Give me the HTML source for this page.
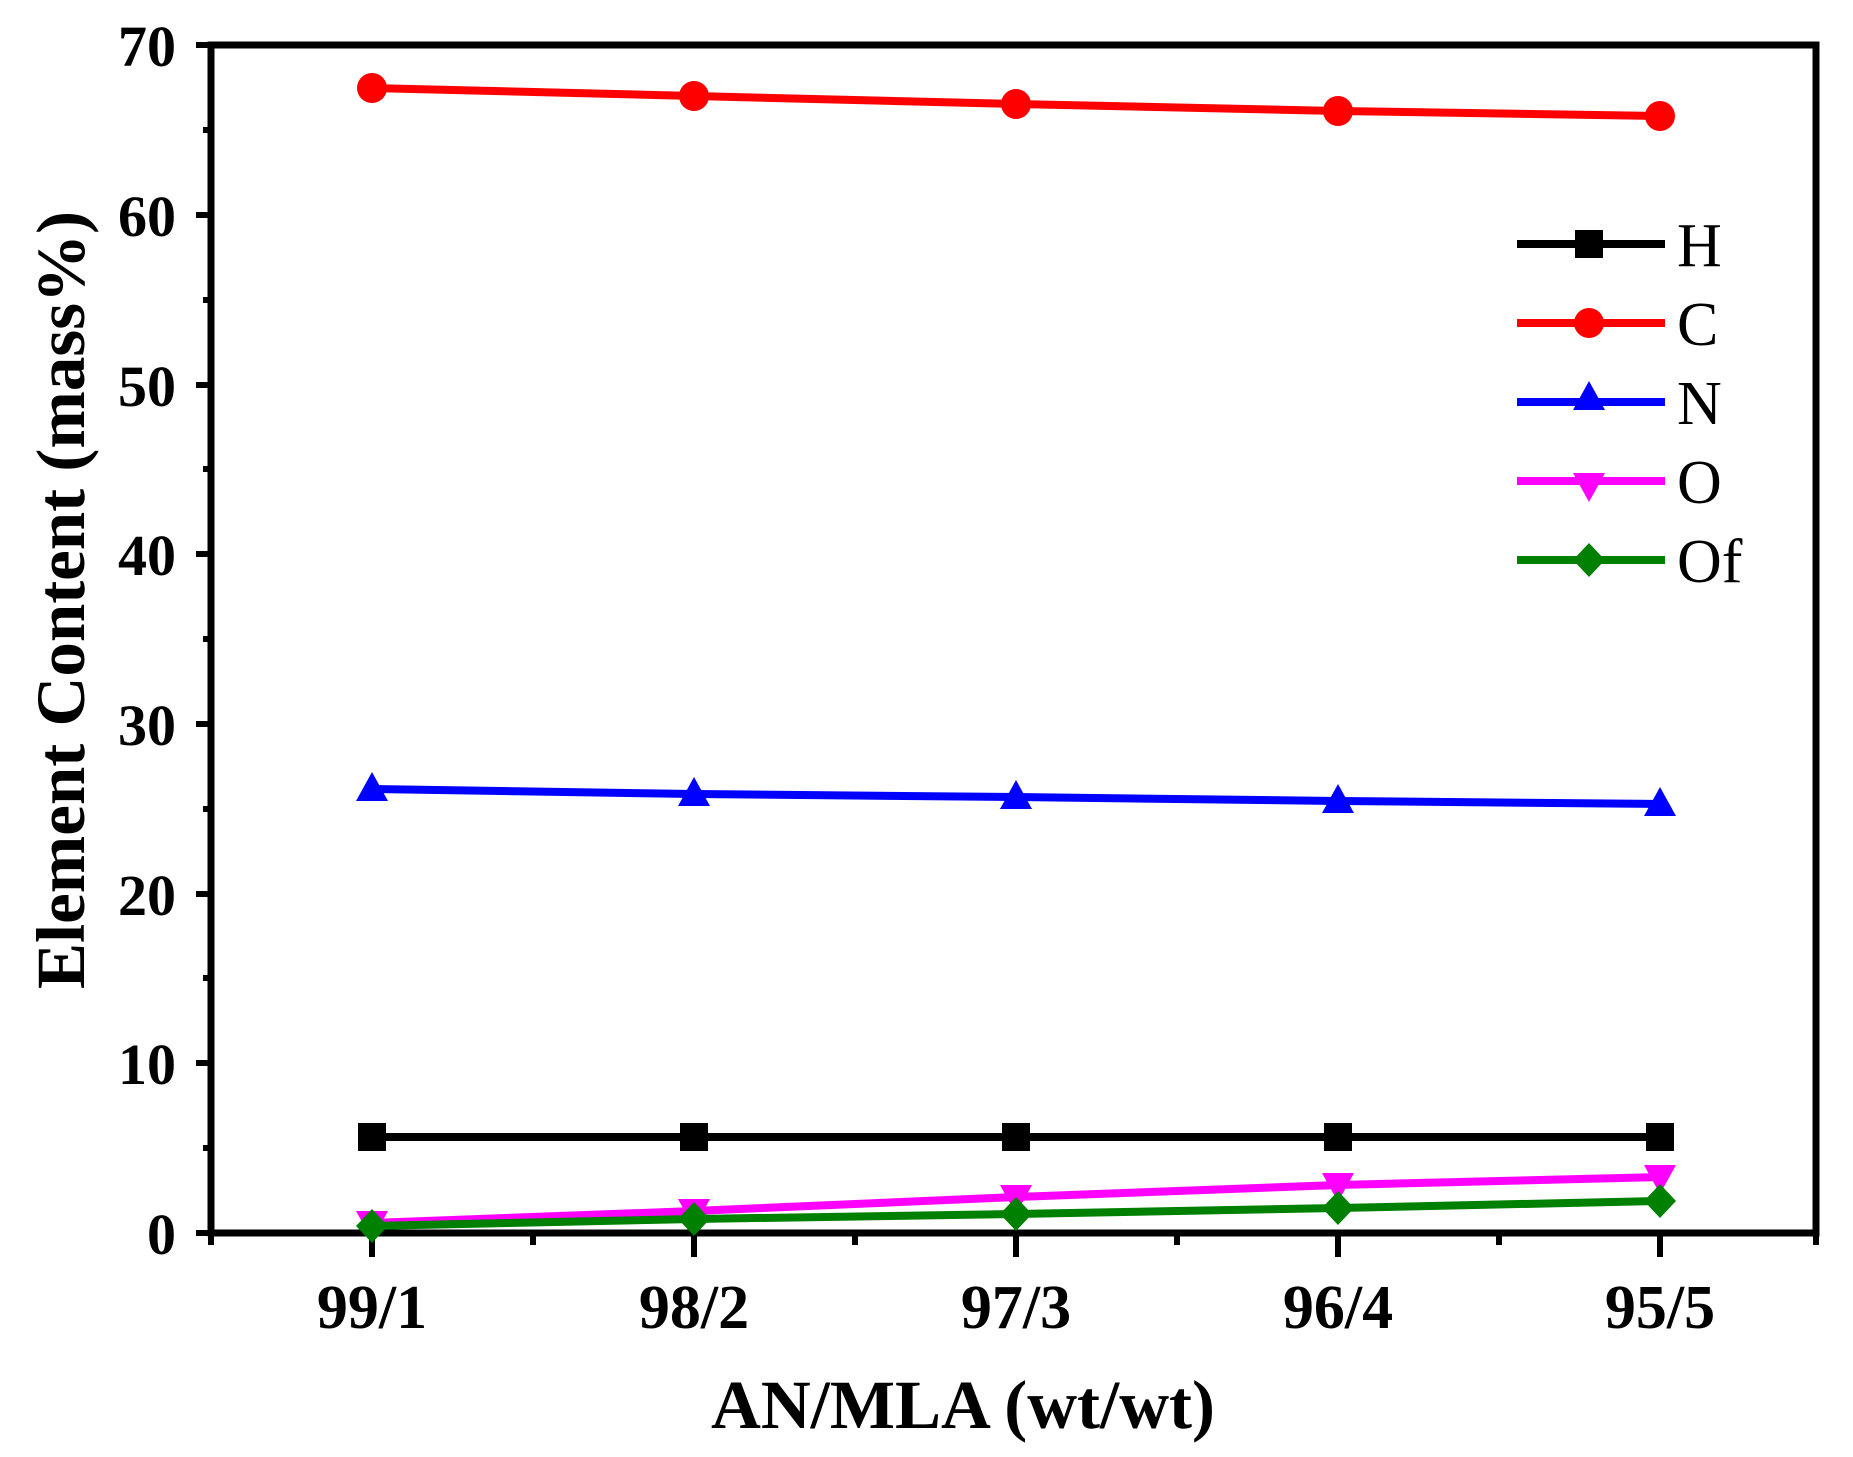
<!DOCTYPE html>
<html><head><meta charset="utf-8"><style>html,body{margin:0;padding:0;background:#fff}</style></head>
<body>
<svg width="1853" height="1452" viewBox="0 0 1853 1452" xmlns="http://www.w3.org/2000/svg" font-family="Liberation Serif, serif">
<rect width="1853" height="1452" fill="#fff"/>
<defs>
<g id="sq"><rect x="-14" y="-14" width="28" height="28"/></g>
<g id="ci"><circle r="15"/></g>
<g id="tu"><polygon points="0,-17 16,12 -16,12"/></g>
<g id="td"><polygon points="0,17 16,-12 -16,-12"/></g>
<g id="di"><polygon points="0,-17 16,0 0,17 -16,0"/></g>
</defs>
<rect x="211" y="45" width="1605" height="1188" fill="none" stroke="#000" stroke-width="7"/>
<g stroke="#000" stroke-width="6">
<line x1="196" y1="1233" x2="211" y2="1233"/><line x1="196" y1="1063" x2="211" y2="1063"/><line x1="196" y1="894" x2="211" y2="894"/><line x1="196" y1="724" x2="211" y2="724"/><line x1="196" y1="554" x2="211" y2="554"/><line x1="196" y1="385" x2="211" y2="385"/><line x1="196" y1="215" x2="211" y2="215"/><line x1="196" y1="45" x2="211" y2="45"/>
<line x1="203" y1="1148" x2="211" y2="1148"/><line x1="203" y1="978" x2="211" y2="978"/><line x1="203" y1="809" x2="211" y2="809"/><line x1="203" y1="639" x2="211" y2="639"/><line x1="203" y1="469" x2="211" y2="469"/><line x1="203" y1="300" x2="211" y2="300"/><line x1="203" y1="130" x2="211" y2="130"/>
<line x1="372" y1="1233" x2="372" y2="1257"/><line x1="694" y1="1233" x2="694" y2="1257"/><line x1="1016" y1="1233" x2="1016" y2="1257"/><line x1="1338" y1="1233" x2="1338" y2="1257"/><line x1="1660" y1="1233" x2="1660" y2="1257"/>
<line x1="211" y1="1233" x2="211" y2="1245"/><line x1="533" y1="1233" x2="533" y2="1245"/><line x1="855" y1="1233" x2="855" y2="1245"/><line x1="1177" y1="1233" x2="1177" y2="1245"/><line x1="1499" y1="1233" x2="1499" y2="1245"/><line x1="1816" y1="1233" x2="1816" y2="1245"/>
</g>
<g font-size="58" font-weight="bold" text-anchor="end">
<text x="176" y="1254">0</text><text x="176" y="1084">10</text><text x="176" y="915">20</text><text x="176" y="745">30</text><text x="176" y="575">40</text><text x="176" y="406">50</text><text x="176" y="236">60</text><text x="176" y="66">70</text>
</g>
<g font-size="62" font-weight="bold" text-anchor="middle">
<text x="372" y="1328">99/1</text><text x="694" y="1328">98/2</text><text x="1016" y="1328">97/3</text><text x="1338" y="1328">96/4</text><text x="1660" y="1328">95/5</text>
<text x="963" y="1428" font-size="69">AN/MLA (wt/wt)</text>
<text transform="translate(84,600) rotate(-90)" font-size="69">Element Content (mass%)</text>
</g>
<g fill="none" stroke-width="8">
<polyline stroke="#000" points="372,1137 694,1137 1016,1137 1338,1137 1660,1137"/>
<polyline stroke="#f00" points="372,88 694,96 1016,104 1338,111 1660,116"/>
<polyline stroke="#00f" points="372,789 694,794 1016,797 1338,801 1660,804"/>
<polyline stroke="#f0f" points="372,1223 694,1211 1016,1197 1338,1185 1660,1177"/>
<polyline stroke="#008000" points="372,1226 694,1219 1016,1214 1338,1208 1660,1201"/>
</g>
<g fill="#000"><use href="#sq" x="372" y="1137"/><use href="#sq" x="694" y="1137"/><use href="#sq" x="1016" y="1137"/><use href="#sq" x="1338" y="1137"/><use href="#sq" x="1660" y="1137"/></g>
<g fill="#f00"><use href="#ci" x="372" y="88"/><use href="#ci" x="694" y="96"/><use href="#ci" x="1016" y="104"/><use href="#ci" x="1338" y="111"/><use href="#ci" x="1660" y="116"/></g>
<g fill="#00f"><use href="#tu" x="372" y="789"/><use href="#tu" x="694" y="794"/><use href="#tu" x="1016" y="797"/><use href="#tu" x="1338" y="801"/><use href="#tu" x="1660" y="804"/></g>
<g fill="#f0f"><use href="#td" x="372" y="1223"/><use href="#td" x="694" y="1211"/><use href="#td" x="1016" y="1197"/><use href="#td" x="1338" y="1185"/><use href="#td" x="1660" y="1177"/></g>
<g fill="#008000"><use href="#di" x="372" y="1226"/><use href="#di" x="694" y="1219"/><use href="#di" x="1016" y="1214"/><use href="#di" x="1338" y="1208"/><use href="#di" x="1660" y="1201"/></g>
<g stroke-width="8">
<line x1="1517" y1="244" x2="1665" y2="244" stroke="#000"/>
<line x1="1517" y1="323" x2="1665" y2="323" stroke="#f00"/>
<line x1="1517" y1="402" x2="1665" y2="402" stroke="#00f"/>
<line x1="1517" y1="481" x2="1665" y2="481" stroke="#f0f"/>
<line x1="1517" y1="560" x2="1665" y2="560" stroke="#008000"/>
</g>
<use href="#sq" x="1589" y="244" fill="#000"/>
<use href="#ci" x="1589" y="323" fill="#f00"/>
<use href="#tu" x="1589" y="398" fill="#00f"/>
<use href="#td" x="1589" y="485" fill="#f0f"/>
<use href="#di" x="1589" y="560" fill="#008000"/>
<g font-size="62">
<text x="1677" y="266">H</text><text x="1677" y="345">C</text><text x="1677" y="424">N</text><text x="1677" y="503">O</text><text x="1677" y="582">Of</text>
</g>
</svg>
</body></html>
